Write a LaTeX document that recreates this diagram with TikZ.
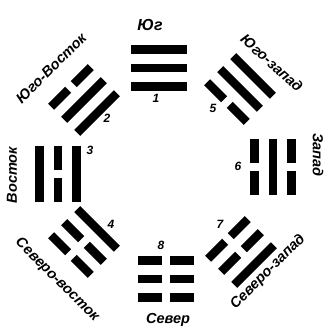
\documentclass[tikz,border=0pt]{standalone}
\usepackage{fontspec}
\setmainfont{Liberation Sans}
\usepackage{tikz}
\tikzset{
  bar/.style={line width=8.5pt, line cap=butt, black},
  lbl/.style={font=\fontsize{14.5}{14.5}\selectfont\bfseries\itshape, inner sep=0pt},
  num/.style={font=\fontsize{12}{12}\selectfont\bfseries\itshape, inner sep=0pt},
}
% one line of a trigram, local frame: +y points away from the centre
\newcommand{\yang}[1]{\draw[bar] (-28,#1) -- (28,#1);}
\newcommand{\yin}[1]{\draw[bar] (-28,#1) -- (-4,#1) (4,#1) -- (28,#1);}

\begin{document}
\begin{tikzpicture}[x=1pt, y=1pt]
  \useasboundingbox (0,0) rectangle (327,328);

  % South -- 1
  \begin{scope}[shift={(159,260)}]
    \yang{-18.5} \yang{0} \yang{18.5}
  \end{scope}
  % South-East -- 2
  \begin{scope}[shift={(84,228)}, rotate=45]
    \yang{-18.5} \yang{0} \yin{18.5}
  \end{scope}
  % East -- 3
  \begin{scope}[shift={(58,154)}, rotate=90]
    \yang{-18.5} \yin{0} \yang{18.5}
  \end{scope}
  % North-East -- 4
  \begin{scope}[shift={(84,86)}, rotate=135]
    \yang{-18.5} \yin{0} \yin{18.5}
  \end{scope}
  % North -- 8
  \begin{scope}[shift={(166,49)}, rotate=180]
    \yin{-18.5} \yin{0} \yin{18.5}
  \end{scope}
  % North-West -- 7
  \begin{scope}[shift={(241,76)}, rotate=225]
    \yin{-18.5} \yin{0} \yang{18.5}
  \end{scope}
  % West -- 6
  \begin{scope}[shift={(273,161)}, rotate=270]
    \yin{-18.5} \yang{0} \yin{18.5}
  \end{scope}
  % South-West -- 5
  \begin{scope}[shift={(240,239)}, rotate=315]
    \yin{-18.5} \yang{0} \yang{18.5}
  \end{scope}

  % numbers
  \node[num] (n1) at (156,230) {1};
  \node[num] (n2) at (107,210) {2};
  \node[num] (n3) at (90,178) {3};
  \node[num] (n4) at (111,104) {4};
  \node[num] (n5) at (213,220) {5};
  \node[num] (n6) at (238,162) {6};
  \node[num] (n7) at (220,104) {7};
  \node[num] (n8) at (161,83) {8};

  % directions
  \node[lbl, font=\fontsize{16}{16}\selectfont\bfseries\itshape] (s) at (150,303) {Юг};
  \node[lbl, rotate=45] (se) at (51,260) {Юго-Восток};
  \node[lbl, rotate=90] (e) at (12,153) {Восток};
  \node[lbl, rotate=-45] (ne) at (57,48) {Северо-восток};
  \node[lbl] (n) at (168,8) {Север};
  \node[lbl, rotate=45] (nw) at (268,56) {Северо-запад};
  \node[lbl, rotate=-90] (w) at (318,173) {Запад};
  \node[lbl, rotate=-42] (sw) at (272,265) {Юго-запад};
\end{tikzpicture}
\end{document}
